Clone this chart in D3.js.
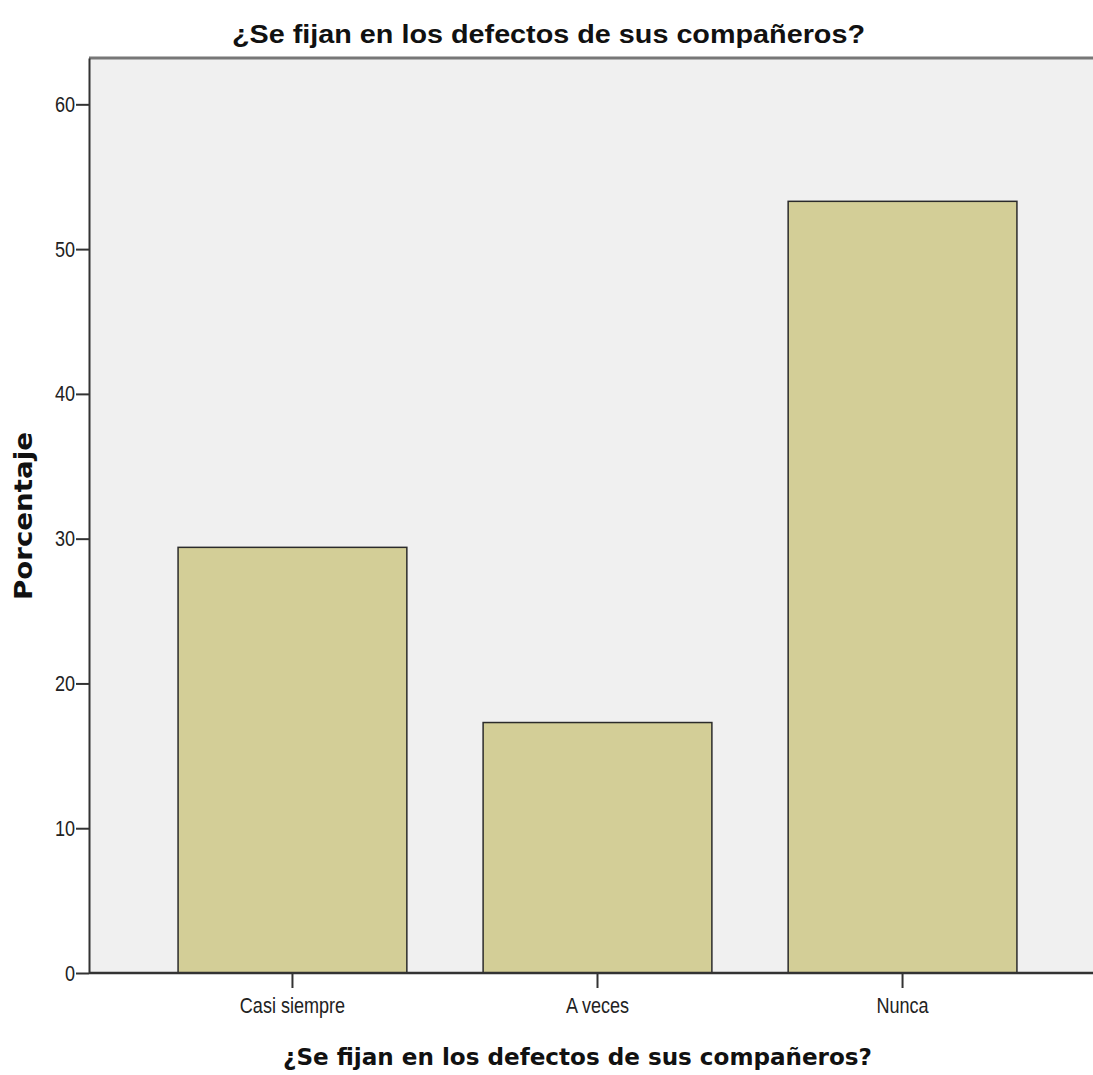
<!DOCTYPE html>
<html><head><meta charset="utf-8">
<script src="https://cdn.jsdelivr.net/npm/d3@7"></script>
<style>
html,body{margin:0;padding:0;background:#fff;overflow:hidden;}
</style></head>
<body>
<svg id="c" width="1093" height="1075"></svg>
<script>
const categories = ["Casi siempre", "A veces", "Nunca"];
const values = [29.4, 17.3, 53.3];
const yTicks = [0, 10, 20, 30, 40, 50, 60];
const titleText = "¿Se fijan en los defectos de sus compañeros?";
const xTitle = "¿Se fijan en los defectos de sus compañeros?";
const yTitle = "Porcentaje";

(function () {
const svg = d3.select("#c");
const arial = "'Liberation Sans',Arial,sans-serif";
const pL = 89, pR = 1106, pT = 58, pB = 973;

function narrowize(sel, f) {
  sel.each(function () {
    const w = this.getComputedTextLength();
    d3.select(this).attr("textLength", w * f).attr("lengthAdjust", "spacingAndGlyphs");
  });
}

const x = d3.scaleBand().domain(categories).range([pL, pR]).paddingInner(0.25).paddingOuter(0.292);
const y = d3.scaleLinear().domain([0, 63.2]).range([pB, pT]);

svg.append("rect").attr("x", pL).attr("y", pT).attr("width", pR - pL).attr("height", pB - pT).attr("fill", "#f0f0f0");
svg.append("line").attr("x1", pL).attr("x2", 1093).attr("y1", pT).attr("y2", pT).attr("stroke", "#777").attr("stroke-width", 3);

svg.selectAll("rect.bar").data(values).enter().append("rect").attr("class", "bar")
  .attr("x", (d, i) => x(categories[i]))
  .attr("y", d => y(d))
  .attr("width", x.bandwidth())
  .attr("height", d => y(0) - y(d))
  .attr("fill", "#d3ce97").attr("stroke", "#2b2b2b").attr("stroke-width", 1.5);

const ya = svg.append("g").attr("transform", `translate(${pL},0)`)
  .call(d3.axisLeft(y).tickValues(yTicks).tickSize(13).tickPadding(1).tickSizeOuter(0));
ya.select(".domain").attr("stroke", "#333").attr("stroke-width", 2);
ya.selectAll(".tick line").attr("stroke", "#333").attr("stroke-width", 2);
ya.selectAll(".tick text").attr("font-family", arial).attr("font-size", 22).attr("fill", "#222");
narrowize(ya.selectAll(".tick text"), 0.82);

const xa = svg.append("g").attr("transform", `translate(0,${pB})`)
  .call(d3.axisBottom(x).tickSize(15).tickPadding(9).tickSizeOuter(0));
xa.select(".domain").attr("stroke", "#333").attr("stroke-width", 2.5).attr("d", `M${pL},0H1093`);
xa.selectAll(".tick line").attr("stroke", "#333").attr("stroke-width", 2);
xa.selectAll(".tick text").attr("font-family", arial).attr("font-size", 22).attr("fill", "#222");
narrowize(xa.selectAll(".tick text"), 0.82);

svg.append("text").attr("x", 548.5).attr("y", 43).attr("text-anchor", "middle")
  .attr("font-family", arial).attr("font-weight", "bold").attr("font-size", 25).attr("fill", "#111")
  .attr("textLength", 633).attr("lengthAdjust", "spacingAndGlyphs").text(titleText);

svg.append("text").attr("x", 577.5).attr("y", 1065).attr("text-anchor", "middle")
  .attr("font-family", "'DejaVu Sans',sans-serif").attr("font-weight", "bold").attr("font-size", 23).attr("fill", "#111")
  .attr("textLength", 589).attr("lengthAdjust", "spacingAndGlyphs").text(xTitle);

svg.append("text").attr("transform", "translate(32,516) rotate(-90)").attr("text-anchor", "middle")
  .attr("font-family", "'DejaVu Sans',sans-serif").attr("font-weight", "bold").attr("font-size", 24).attr("fill", "#111")
  .attr("textLength", 168).attr("lengthAdjust", "spacingAndGlyphs").text(yTitle);
})();
</script>
</body></html>
